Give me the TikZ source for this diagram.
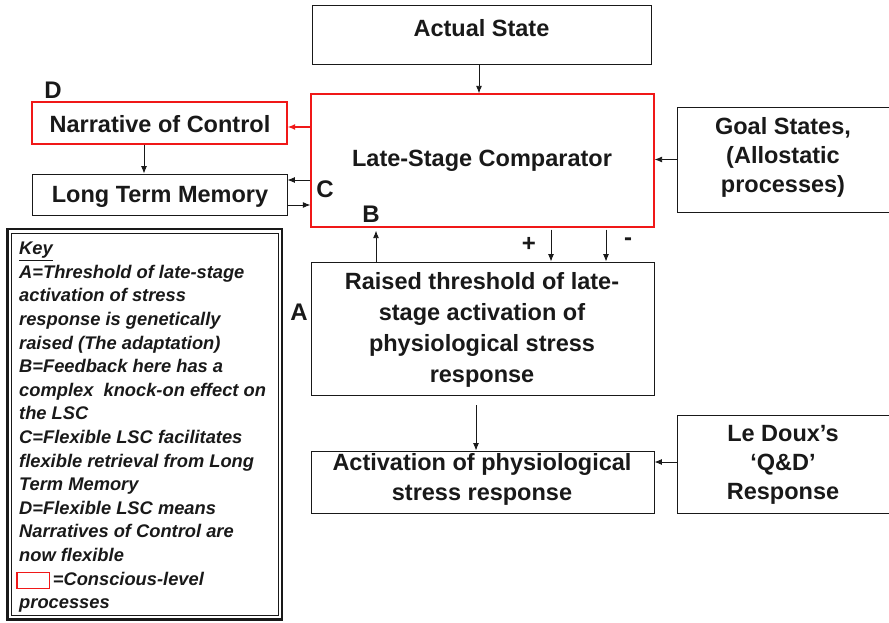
\documentclass[tikz,border=0pt]{standalone}
\usepackage{fontspec}
\setmainfont{Liberation Sans}
\usetikzlibrary{arrows.meta}
\definecolor{conscious}{RGB}{240,24,24}
\definecolor{ink}{RGB}{25,25,25}
\begin{document}
\begin{tikzpicture}[x=1pt,y=-1pt,
  box/.style={draw=ink, line width=0.9pt, rectangle, inner sep=0pt, fill=white},
  redbox/.style={box, draw=conscious, line width=1.3pt},
  txt/.style={font=\fontsize{23.5}{30}\selectfont\bfseries, align=center, inner sep=0pt, text=ink},
  txtb/.style={txt, font=\fontsize{23.5}{31}\selectfont\bfseries},
  txtc/.style={txt, font=\fontsize{23.5}{28.8}\selectfont\bfseries},
  lbl/.style={font=\fontsize{24}{24}\selectfont\bfseries, inner sep=0pt, text=ink},
  keytxt/.style={font=\fontsize{18.3}{23.6}\selectfont\bfseries\itshape, align=left, inner sep=0pt, text=ink},
  arr/.style={-{Latex[length=7.5pt,width=6pt]}, line width=0.9pt, draw=ink},
  redarr/.style={arr, draw=conscious, line width=1.3pt}
]
\useasboundingbox (0,0) rectangle (889,623);

% boxes
\node[box, minimum width=339pt, minimum height=59pt] (actual) at (481.5,34.5) {};
\node[txt] (actualtxt) at (481.5,28) {Actual State};

\node[redbox, minimum width=343pt, minimum height=133pt] (lsc) at (482.5,160.5) {};
\node[txt] (lsctxt) at (482,161) {Late-Stage Comparator};

\node[box, minimum width=212pt, minimum height=105pt] (goal) at (783,159.5) {};
\node[txtc] (goaltxt) at (783,157.5) {Goal States,\\(Allostatic\\processes)};

\node[redbox, minimum width=255pt, minimum height=42pt] (narr) at (159.5,123) {};
\node[txt] (narrtxt) at (160,124) {Narrative of Control};

\node[box, minimum width=255pt, minimum height=41pt] (ltm) at (159.5,194.5) {};
\node[txt] (ltmtxt) at (160,196.5) {Long Term Memory};

\node[box, minimum width=343pt, minimum height=133pt] (raised) at (482.5,328.5) {};
\node[txtb] (raisedtxt) at (482,330) {Raised threshold of late-\\stage activation of\\physiological stress\\response};

\node[box, minimum width=343pt, minimum height=62pt] (act) at (482.5,482) {};
\node[txt] (acttxt) at (482,479) {Activation of physiological\\stress response};

\node[box, minimum width=212pt, minimum height=98pt] (ledoux) at (783,464) {};
\node[txtc] (ledouxtxt) at (783,465) {Le Doux’s\\‘Q\&D’\\Response};

% key, framed by a thick outer and a thin inner rule
\draw[draw=ink, line width=2.2pt] (7.5,229) rectangle (282,619.5);
\draw[draw=ink, line width=0.9pt] (11.5,233) rectangle (278,615.5);
\node[keytxt, anchor=north west] (keytext) at (19,242) {\underline{Key}\\
A=Threshold of late-stage\\
activation of stress\\
response is genetically\\
raised (The adaptation)\\
B=Feedback here has a\\
complex\ \ knock-on effect on\\
the LSC\\
C=Flexible LSC facilitates\\
flexible retrieval from Long\\
Term Memory\\
D=Flexible LSC means\\
Narratives of Control are\\
now flexible\\
\hspace*{-3pt}{\setlength\fboxrule{1.3pt}\setlength\fboxsep{0pt}\raisebox{-3pt}{\fcolorbox{conscious}{white}{\rule{0pt}{15pt}\hspace*{31pt}}}}\,=Conscious-level\\
processes};

% letter labels
\node[lbl] (labD) at (53,90) {D};
\node[lbl] (labC) at (325,189) {C};
\node[lbl] (labB) at (371,214) {B};
\node[lbl] (labA) at (299,312) {A};
\node[lbl] (plus) at (529,244) {+};
\node[lbl] (minus) at (628,242) {-};

% connector positions
\coordinate (xact) at (479,0);
\coordinate (ynarr) at (0,127);
\coordinate (xnarr) at (144,0);
\coordinate (yout) at (0,180);
\coordinate (yin) at (0,205);
\coordinate (xfb) at (376,0);
\coordinate (xplus) at (551,0);
\coordinate (xminus) at (606,0);
\coordinate (xdown) at (476,0);
\coordinate (yled) at (0,462);

% connectors
\draw[arr] (actual.south -| xact) -- (lsc.north -| xact);
\draw[arr] (goal.west) -- (lsc.east |- goal.west);
\draw[redarr] (lsc.west |- ynarr) -- (narr.east |- ynarr);
\draw[arr] (narr.south -| xnarr) -- (ltm.north -| xnarr);
\draw[arr] (lsc.west |- yout) -- (ltm.east |- yout);
\draw[arr] (ltm.east |- yin) -- (lsc.west |- yin);
\draw[arr, shorten >=3pt] (raised.north -| xfb) -- (lsc.south -| xfb);
\draw[arr, shorten <=2pt] (lsc.south -| xplus) -- (raised.north -| xplus);
\draw[arr, shorten <=2pt] (lsc.south -| xminus) -- (raised.north -| xminus);
\draw[arr, shorten <=10pt] (raised.south -| xdown) -- (act.north -| xdown);
\draw[arr] (ledoux.west |- yled) -- (act.east |- yled);
\end{tikzpicture}
\end{document}
